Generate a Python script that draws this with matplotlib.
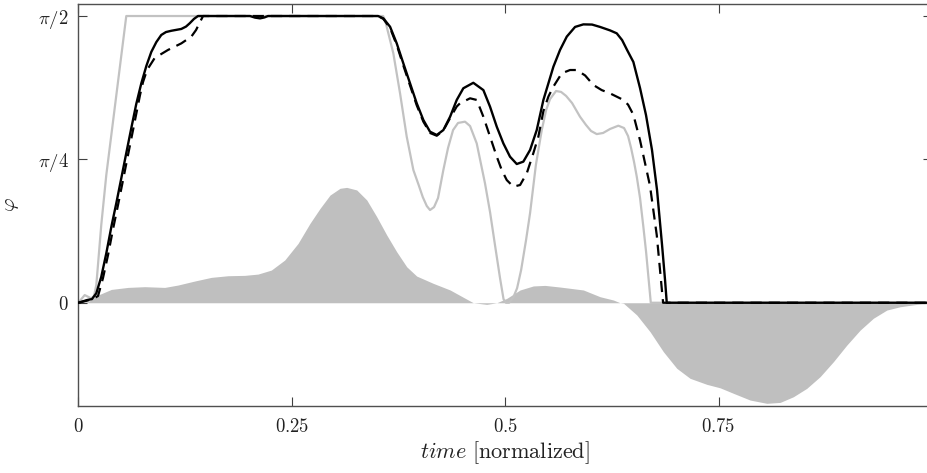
import numpy as np
import matplotlib
matplotlib.use("Agg")
import matplotlib.pyplot as plt

plt.rcParams['mathtext.fontset'] = 'cm'
plt.rcParams['font.family'] = 'serif'
plt.rcParams['font.serif'] = ['cmr10', 'DejaVu Serif']
plt.rcParams['axes.formatter.use_mathtext'] = True

HP = np.pi / 2

# grey reference line
gray_t = [0, 0.0075, 0.0152, 0.0184, 0.0211, 0.0269, 0.0328, 0.0562, 0.357,
          0.3593, 0.3690, 0.3769, 0.3847, 0.3925, 0.3987, 0.4035, 0.4082, 0.4120,
          0.4167, 0.4214, 0.4276, 0.4331, 0.4390, 0.4448, 0.4530, 0.4589, 0.4667,
          0.4764, 0.4823, 0.4881, 0.4940, 0.4981, 0.501, 0.5046, 0.5093, 0.514,
          0.5187, 0.5245, 0.5292, 0.536, 0.5429, 0.548, 0.5526, 0.5596, 0.5655,
          0.5714, 0.5784, 0.5877, 0.5947, 0.6006, 0.6073, 0.6147, 0.6229, 0.6326,
          0.6393, 0.6440, 0.6475, 0.6510, 0.6542, 0.6580, 0.6619, 0.6651, 0.6678,
          0.6706, 1.0]
gray_phi = [0, 0.042, 0.024, 0.037, 0.097, 0.426, 0.700, HP, HP,
            1.549, 1.367, 1.147, 0.910, 0.727, 0.645, 0.579, 0.530, 0.508,
            0.524, 0.574, 0.727, 0.848, 0.946, 0.985, 0.992, 0.968, 0.873,
            0.654, 0.497, 0.316, 0.135, 0.020, 0, 0, 0.026, 0.080,
            0.179, 0.344, 0.4915, 0.755, 0.946, 1.056, 1.116, 1.160, 1.155,
            1.133, 1.094, 1.019, 0.974, 0.941, 0.924, 0.930, 0.952, 0.970,
            0.957, 0.913, 0.848, 0.771, 0.690, 0.574, 0.416, 0.278, 0.142,
            0, 0]

# solid black line
solid_t = [0, 0.0105, 0.0160, 0.0211, 0.0269, 0.0328, 0.0387, 0.0445, 0.0504,
           0.0562, 0.0621, 0.0679, 0.0738, 0.0797, 0.0855, 0.0914, 0.0972, 0.1027,
           0.1090, 0.1207, 0.1262, 0.1305, 0.1355, 0.1402, 0.2011, 0.2070, 0.2129,
           0.2180, 0.2222, 0.3511, 0.3573, 0.3652, 0.3730, 0.3807, 0.3886, 0.3964,
           0.4042, 0.4120, 0.4199, 0.4276, 0.4355, 0.4433, 0.4510, 0.4627, 0.4745,
           0.4823, 0.4902, 0.4979, 0.5057, 0.5136, 0.5213, 0.5292, 0.5370, 0.5448,
           0.5565, 0.5643, 0.5722, 0.5819, 0.5916, 0.6018, 0.6112, 0.6229, 0.6307,
           0.6370, 0.6428, 0.6502, 0.6580, 0.6650, 0.6720, 0.6779, 0.6838, 0.6873,
           0.6893, 1.0]
solid_phi = [0, 0.015, 0.020, 0.052, 0.142, 0.271, 0.416, 0.545, 0.683,
             0.820, 0.957, 1.089, 1.202, 1.297, 1.374, 1.428, 1.467, 1.483,
             1.490, 1.500, 1.513, 1.531, 1.555, HP, HP, 1.562, 1.558,
             1.563, HP, HP, 1.558, 1.512, 1.421, 1.312, 1.202, 1.093,
             1.001, 0.937, 0.919, 0.946, 1.019, 1.111, 1.175, 1.205, 1.165,
             1.074, 0.964, 0.873, 0.800, 0.760, 0.773, 0.837, 0.946, 1.111,
             1.293, 1.385, 1.458, 1.511, 1.525, 1.524, 1.511, 1.492, 1.476,
             1.439, 1.385, 1.319, 1.176, 1.028, 0.837, 0.618, 0.316, 0.124,
             0, 0]

# dashed black line
dash_t = [0, 0.0105, 0.0160, 0.0231, 0.0289, 0.0348, 0.0407, 0.0465, 0.0524,
          0.0582, 0.0641, 0.0688, 0.0723, 0.0758, 0.0805, 0.0895, 0.1051, 0.1207,
          0.1324, 0.1379, 0.1426, 0.1461, 0.3511, 0.3573, 0.3652, 0.3730, 0.3807,
          0.3886, 0.3964, 0.4042, 0.4120, 0.4199, 0.4276, 0.4355, 0.4433, 0.4472,
          0.4589, 0.4667, 0.4745, 0.4823, 0.4902, 0.4960, 0.5019, 0.5096, 0.5175,
          0.5253, 0.5330, 0.5389, 0.5448, 0.5507, 0.5565, 0.5663, 0.5760, 0.5839,
          0.5937, 0.6033, 0.6131, 0.6229, 0.6385, 0.6440, 0.6502, 0.6580, 0.6697,
          0.6776, 0.6846, 0.6850, 1.0]
dash_phi = [0, 0.012, 0.018, 0.037, 0.135, 0.261, 0.404, 0.535, 0.672,
            0.809, 0.946, 1.056, 1.138, 1.209, 1.275, 1.341, 1.385, 1.421,
            1.458, 1.494, 1.538, HP, HP, 1.555, 1.505, 1.412, 1.300,
            1.190, 1.082, 0.992, 0.930, 0.915, 0.944, 1.012, 1.075, 1.093,
            1.120, 1.111, 1.019, 0.910, 0.800, 0.727, 0.672, 0.636, 0.645,
            0.709, 0.819, 0.910, 1.050, 1.130, 1.184, 1.257, 1.275, 1.275,
            1.245, 1.193, 1.165, 1.147, 1.111, 1.085, 1.030, 0.890, 0.640,
            0.370, 0.020, 0, 0]

# grey filled signal
fill_t = [0, 0.0114, 0.0231, 0.0387, 0.0582, 0.0778, 0.1012, 0.1168, 0.1364,
          0.1558, 0.1754, 0.1949, 0.2105, 0.2261, 0.2418, 0.2574, 0.2714, 0.2832,
          0.2949, 0.3066, 0.3144, 0.3261, 0.3379, 0.3496, 0.3613, 0.3730, 0.3847,
          0.3964, 0.4159, 0.4355, 0.4510, 0.4627, 0.4784, 0.4902, 0.5019, 0.5175,
          0.5330, 0.5467, 0.5643, 0.5916, 0.6112, 0.6268, 0.6346, 0.6387, 0.6542,
          0.6698, 0.6853, 0.7010, 0.7166, 0.7362, 0.7518, 0.7673, 0.7869, 0.8065,
          0.8221, 0.8376, 0.8533, 0.8689, 0.8845, 0.9002, 0.9158, 0.9313, 0.9471,
          0.9626, 0.9822, 1.0]
fill_val = [0, 0.0055, 0.042, 0.073, 0.084, 0.088, 0.084, 0.097, 0.119,
            0.139, 0.148, 0.150, 0.157, 0.179, 0.234, 0.325, 0.435, 0.517,
            0.590, 0.627, 0.632, 0.618, 0.563, 0.471, 0.371, 0.279, 0.197,
            0.146, 0.106, 0.070, 0.030, 0, -0.009, 0, 0.024, 0.070,
            0.092, 0.095, 0.086, 0.070, 0.033, 0.015, 0, -0.003, -0.067,
            -0.159, -0.268, -0.359, -0.414, -0.447, -0.466, -0.496, -0.533, -0.551,
            -0.546, -0.515, -0.469, -0.405, -0.323, -0.232, -0.150, -0.085, -0.040,
            -0.022, -0.009, -0.003]

xticks = [0, 0.25, 0.5, 0.75, 1]
xtick_labels = ['$0$', '$0.25$', '$0.5$', '$0.75$', '$1$']
yticks = [0, np.pi / 4, np.pi / 2]
ytick_labels = ['$0$', r'$\pi/4$', r'$\pi/2$']

fig = plt.figure(figsize=(9.28, 4.73), dpi=100)
W, H = 928, 473
ax = fig.add_axes([78.3 / W, (H - 405.7) / H, (932 - 78.3) / W, (405.7 - 4.3) / H])

ax.fill_between(fill_t, 0, fill_val, color='#bfbfbf', lw=0, zorder=1)
ax.plot(gray_t, gray_phi, color='#c2c2c2', lw=1.6, zorder=2, solid_joinstyle='round')
ax.plot(dash_t, dash_phi, color='black', lw=1.6, dashes=(5, 3.2), zorder=3)
ax.plot(solid_t, solid_phi, color='black', lw=1.7, zorder=4, solid_joinstyle='round')

ax.set_xlim(0, 1)
ax.set_ylim(-0.564, 1.635)
ax.set_xticks(xticks)
ax.set_xticklabels(xtick_labels)
ax.set_yticks(yticks)
ax.set_yticklabels(ytick_labels)
ax.tick_params(direction='in', length=6.5, width=0.8, color='#404040',
               top=True, right=True, labelsize=13.5, labelcolor='#222222')
ax.tick_params(axis='x', pad=9)
ax.tick_params(axis='y', pad=7)
for s in ax.spines.values():
    s.set_color('#505050')
    s.set_linewidth(1.0)

ax.set_xlabel(r'$time\ \mathrm{[normalized]}$', fontsize=16, color='#222222', labelpad=2)
ax.set_ylabel(r'$\varphi$', fontsize=15, color='#222222', labelpad=12)

fig.savefig('out.png', dpi=100)
